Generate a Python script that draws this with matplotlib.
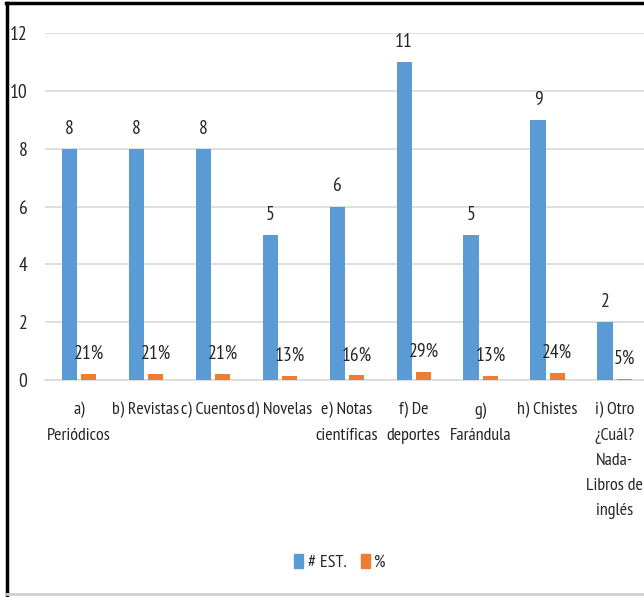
import matplotlib
matplotlib.use("Agg")
import matplotlib.pyplot as plt
import numpy as np
from matplotlib.lines import Line2D
from matplotlib.patches import Patch

plt.rcParams['font.family'] = ['PT Sans Narrow', 'DejaVu Sans']

categories = ["a)\nPeriódicos", "b) Revistas", "c) Cuentos", "d) Novelas",
              "e) Notas\ncientíficas", "f) De\ndeportes", "g)\nFarándula",
              "h) Chistes", "i) Otro\n¿Cuál?\nNada-\nLibros de\ninglés"]
students = [8, 8, 8, 5, 6, 11, 5, 9, 2]
percent = [0.21, 0.21, 0.21, 0.13, 0.16, 0.29, 0.13, 0.24, 0.05]
yticks = [0, 2, 4, 6, 8, 10, 12]

BLUE = "#5B9BD5"
ORANGE = "#ED7D31"
TEXT = "#262626"

fig = plt.figure(figsize=(6.44, 5.97), dpi=100)
ax = fig.add_axes([0.0705, 0.3635, 0.936, 0.5812])

x = np.arange(len(categories))
w = 0.225
off = 0.145
b1 = ax.bar(x - off, students, w, color=BLUE, zorder=3)
b2 = ax.bar(x + off, percent, w, color=ORANGE, zorder=3)

fs = 14
for rect, v in zip(b1, students):
    ax.annotate(f"{v}", (rect.get_x() + rect.get_width() / 2, v),
                xytext=(0, 8), textcoords="offset points",
                ha="center", va="bottom", fontsize=fs, color=TEXT)
for rect, v in zip(b2, percent):
    ax.annotate(f"{round(v * 100)}%", (rect.get_x() + rect.get_width() / 2, v),
                xytext=(0, 8), textcoords="offset points",
                ha="center", va="bottom", fontsize=fs, color=TEXT)

ax.set_xlim(-0.5, len(categories) - 0.5)
ax.set_ylim(0, 12)
ax.set_yticks(yticks)
ax.set_yticklabels([str(t) for t in yticks], fontsize=fs, color=TEXT)
ax.set_xticks(x)
ax.set_xticklabels(categories, fontsize=13, color=TEXT, linespacing=1.76, va="top")
ax.tick_params(axis="both", length=0)
ax.tick_params(axis="x", pad=16)
ax.tick_params(axis="y", pad=13)
ax.grid(axis="y", color="#D9D9D9", linewidth=1.2, zorder=0)
for s in ["top", "right", "left"]:
    ax.spines[s].set_visible(False)
ax.spines["bottom"].set_color("#D9D9D9")
ax.spines["bottom"].set_linewidth(1.2)

handles = [Patch(color=BLUE), Patch(color=ORANGE)]
fig.legend(handles, ["# EST.", "%"], loc="center", bbox_to_anchor=(0.528, 0.058),
           ncol=2, frameon=False, fontsize=13, handlelength=0.5, handleheight=0.9,
           handletextpad=0.25, columnspacing=0.8, labelcolor=TEXT)

# outer frame
fig.add_artist(Line2D([0.009, 1.0], [0.9945, 0.9945], color="black", lw=2.5,
                      transform=fig.transFigure))
fig.add_artist(Line2D([0.0115, 0.0115], [0.0, 0.995], color="black", lw=2.5,
                      transform=fig.transFigure))
fig.add_artist(Line2D([0.0115, 1.0], [0.005, 0.005], color="#D0D0D0", lw=2,
                      transform=fig.transFigure))

fig.savefig("out.png", dpi=100)
